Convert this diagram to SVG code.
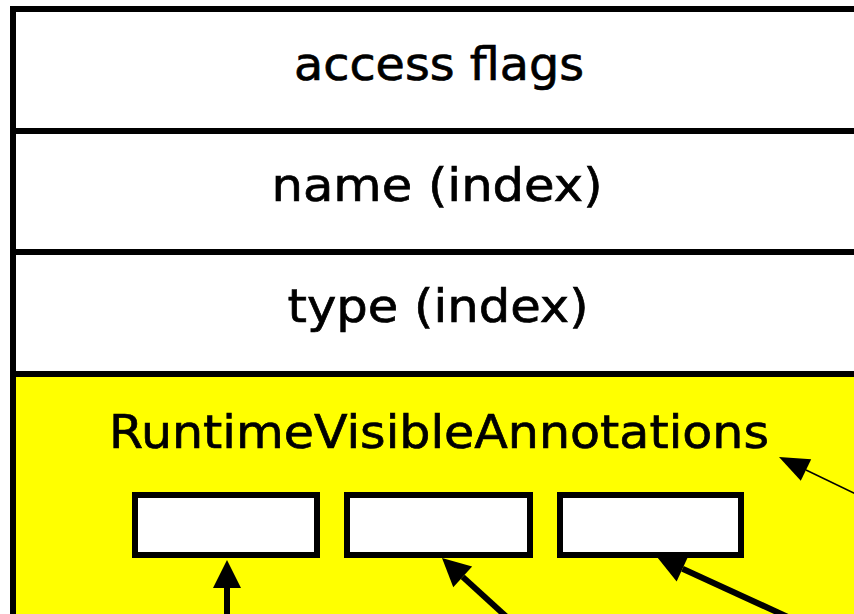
<svg xmlns="http://www.w3.org/2000/svg" width="854" height="614" viewBox="0 0 854 614">
<defs>
<style>
.row{fill:#ffffff;stroke:#000000;stroke-width:6}
.ann{fill:#ffff00;stroke:#000000;stroke-width:6}
.cell{fill:#ffffff;stroke:#000000;stroke-width:6}
.lbl{font-family:"DejaVu Sans","Verdana",sans-serif;font-size:47px;fill:#000000;stroke:#000000;stroke-width:0.7;text-anchor:middle}
.thick{stroke:#000000;stroke-width:6;fill:none}
.thin{stroke:#000000;stroke-width:1.5;fill:none}
</style>
<marker id="hk" markerUnits="userSpaceOnUse" markerWidth="28" markerHeight="28" refX="0" refY="14" orient="auto" overflow="visible"><path d="M0,0 L28,14 L0,28 z" fill="#000000"/></marker>
<marker id="hn" markerUnits="userSpaceOnUse" markerWidth="30" markerHeight="24" refX="0" refY="12" orient="auto" overflow="visible"><path d="M0,0 L30,12 L0,24 z" fill="#000000"/></marker>
</defs>
<g id="access_flags"><rect class="row" x="13" y="9" width="900" height="122"/><text class="lbl" x="439" y="80" textLength="290" lengthAdjust="spacingAndGlyphs">access flags</text></g>
<g id="name"><rect class="row" x="13" y="131" width="900" height="121"/><text class="lbl" x="437" y="201" textLength="331" lengthAdjust="spacingAndGlyphs">name (index)</text></g>
<g id="type"><rect class="row" x="13" y="252" width="900" height="122"/><text class="lbl" x="438" y="322" textLength="301" lengthAdjust="spacingAndGlyphs">type (index)</text></g>
<g id="annotations"><rect class="ann" x="13" y="374" width="900" height="300"/><text class="lbl" x="439" y="448" textLength="660" lengthAdjust="spacingAndGlyphs">RuntimeVisibleAnnotations</text></g>
<g id="cell1"><rect class="cell" x="135" y="495" width="182" height="60"/></g>
<g id="cell2"><rect class="cell" x="347" y="495" width="183" height="60"/></g>
<g id="cell3"><rect class="cell" x="560" y="495" width="181" height="60"/></g>
<g id="connectors">
<line class="thick" x1="227" y1="630" x2="227" y2="588" marker-end="url(#hk)"/>
<line class="thick" x1="510" y1="620" x2="462.7" y2="576.9" marker-end="url(#hk)"/>
<line class="thick" x1="790" y1="618" x2="682.5" y2="568.7" marker-end="url(#hk)"/>
<line class="thin" x1="860" y1="496" x2="806" y2="470" marker-end="url(#hn)"/>
</g>
</svg>
